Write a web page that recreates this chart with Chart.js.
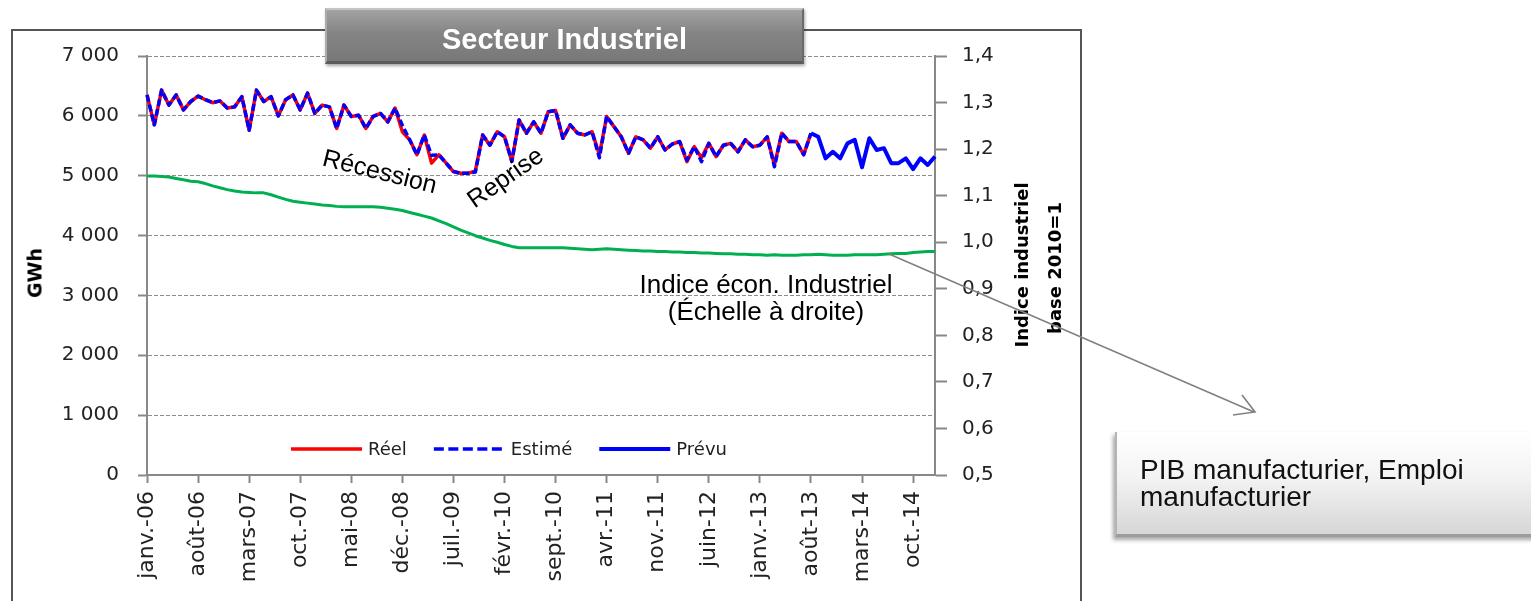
<!DOCTYPE html>
<html lang="fr">
<head>
<meta charset="utf-8">
<title>Secteur Industriel</title>
<script src="https://cdn.jsdelivr.net/npm/chart.js@4.4.1/dist/chart.umd.min.js"></script>
<style>
  html, body { margin: 0; padding: 0; background: #fff; }
  body { position: relative; width: 1531px; height: 601px; overflow: hidden;
         font-family: "Liberation Sans", Arial, sans-serif; }
  #frame { position: absolute; left: 11px; top: 29px; width: 1067px; height: 620px;
           border: 2px solid #555; }
  #chart { position: absolute; left: 0; top: 0; }
  #title { position: absolute; left: 325px; top: 8px; width: 479px; height: 56px;
           box-sizing: border-box; color: #fff; text-align: center;
           font: bold 29px "Liberation Sans", Arial, sans-serif; line-height: 58px;
           background: linear-gradient(#a2a2a2, #858585 45%, #787878);
           border-top: 2px solid #c4c4c4; border-left: 2px solid #acacac;
           border-right: 2px solid #6a6a6a; border-bottom: 3px solid #5c5c5c;
           box-shadow: 1px 2px 3px rgba(0,0,0,0.35); }
  .note { position: absolute; white-space: nowrap; color: #000; font-size: 25px; line-height: 1; }
  .axis-title { position: absolute; white-space: nowrap; color: #000;
                font: bold 18px "DejaVu Sans", sans-serif; line-height: 1; }
  #indice { position: absolute; left: 566px; top: 271px; width: 400px; text-align: center;
            font-size: 26px; line-height: 26.7px; color: #000; }
  #pib { position: absolute; left: 1115px; top: 432px; width: 430px; height: 105px;
         box-sizing: border-box;
         background: linear-gradient(#ffffff, #f3f3f3 45%, #d6d6d6);
         border-left: 2px solid #b4b4b4; border-bottom: 3px solid #9c9c9c;
         box-shadow: -2px 3px 4px rgba(0,0,0,0.35); }
  #pib-text { position: absolute; left: 1140px; top: 456px; font-size: 28px;
              line-height: 27px; color: #111; }
  #arrow { position: absolute; left: 0; top: 0; pointer-events: none; }
</style>
</head>
<body>
<div id="frame"></div>
<canvas id="chart" width="1531" height="601"></canvas>
<div id="title">Secteur Industriel</div>

<div class="note" style="left:380px; top:171px; transform: translate(-50%,-50%) rotate(14deg);">Récession</div>
<div class="note" style="left:505px; top:177px; transform: translate(-50%,-50%) rotate(-35deg);">Reprise</div>
<div id="indice">Indice écon. Industriel<br>(Échelle à droite)</div>

<div class="axis-title" style="left:35px; top:273px; font-size:19px; transform: translate(-50%,-50%) rotate(-90deg);">GWh</div>
<div class="axis-title" style="left:1022px; top:265px; transform: translate(-50%,-50%) rotate(-90deg);">Indice industriel</div>
<div class="axis-title" style="left:1055px; top:268px; transform: translate(-50%,-50%) rotate(-90deg);">base 2010=1</div>

<div id="pib"></div>
<div id="pib-text">PIB manufacturier, Emploi<br>manufacturier</div>

<svg id="arrow" width="1531" height="601">
  <line x1="889" y1="254" x2="1254" y2="412" stroke="#808080" stroke-width="1.6"/>
  <polyline points="1233,415 1255,412 1242,395" fill="none" stroke="#808080" stroke-width="1.6"/>
</svg>

<script>
// Monthly industrial electricity sales (GWh) janv.-06 .. janv.-15,
// plus the industrial economic index (right axis, base 2010 = 1).

// --- Categories ---
const MONTHS = ['janv.', 'févr.', 'mars', 'avr.', 'mai', 'juin',
                'juil.', 'août', 'sept.', 'oct.', 'nov.', 'déc.'];
const YEARS = ['06', '07', '08', '09', '10', '11', '12', '13', '14', '15'];
const N_MONTHS = 109;          // janv.-06 .. janv.-15
const LABEL_EVERY = 7;         // one x label every 7 months

const categories = [];
YEARS.forEach(y => MONTHS.forEach(m => categories.push(m + '-' + y)));
categories.length = N_MONTHS;

// --- Series (GWh) ---
// Réel: janv.-06 .. août-13
const reel = [
  6350, 5850, 6430, 6180, 6350, 6100, 6240, 6330, 6270, 6220,
  6250, 6130, 6150, 6320, 5760, 6430, 6240, 6320, 6000, 6270,
  6350, 6100, 6380, 6040, 6180, 6150, 5790, 6180, 5990, 6010,
  5790, 5990, 6040, 5900, 6130, 5735, 5600, 5350, 5680, 5210,
  5350, 5210, 5070, 5040, 5040, 5080, 5680, 5510, 5735, 5650,
  5240, 5930, 5710, 5900, 5710, 6070, 6090, 5625, 5850, 5710,
  5680, 5735, 5350, 5990, 5820, 5650, 5375, 5650, 5600, 5460,
  5650, 5430, 5530, 5570, 5235, 5485, 5300, 5540, 5320, 5510,
  5540, 5400, 5600, 5485, 5510, 5650, 5180, 5710, 5570, 5570,
  5350, 5710
];

// Estimé: same period
const estime = [
  6350, 5850, 6430, 6180, 6350, 6100, 6240, 6330, 6270, 6220,
  6250, 6130, 6150, 6320, 5760, 6430, 6240, 6320, 6000, 6270,
  6350, 6100, 6380, 6040, 6180, 6150, 5790, 6180, 5990, 6010,
  5790, 5990, 6040, 5900, 6130, 5840, 5600, 5350, 5680, 5340,
  5350, 5210, 5070, 5040, 5040, 5060, 5680, 5510, 5735, 5650,
  5240, 5930, 5710, 5900, 5710, 6070, 6090, 5625, 5850, 5710,
  5680, 5735, 5300, 5990, 5820, 5650, 5375, 5650, 5600, 5460,
  5650, 5430, 5530, 5570, 5260, 5485, 5235, 5540, 5320, 5510,
  5540, 5400, 5600, 5485, 5510, 5650, 5150, 5710, 5570, 5570,
  5350, 5710
];

// Prévu: août-13 .. janv.-15
const PREVU_START = 91;
const prevu = [
  5710, 5650, 5290, 5400, 5290, 5540, 5600, 5140, 5625, 5430,
  5460, 5210, 5210, 5290, 5110, 5290, 5180, 5320
];

// Indice économique industriel (right axis)
const indice = [
  1.142, 1.142, 1.141, 1.140, 1.137, 1.134, 1.131, 1.130, 1.126, 1.121,
  1.117, 1.113, 1.110, 1.108, 1.107, 1.106, 1.106, 1.102, 1.097, 1.092,
  1.088, 1.086, 1.084, 1.082, 1.080, 1.079, 1.077, 1.076, 1.076, 1.076,
  1.076, 1.076, 1.075, 1.073, 1.071, 1.068, 1.064, 1.060, 1.056, 1.052,
  1.046, 1.040, 1.033, 1.026, 1.020, 1.014, 1.009, 1.004, 1.000, 0.995,
  0.991, 0.988, 0.988, 0.988, 0.988, 0.988, 0.988, 0.988, 0.987, 0.986,
  0.985, 0.984, 0.985, 0.986, 0.985, 0.984, 0.983, 0.982, 0.981, 0.981,
  0.980, 0.980, 0.979, 0.979, 0.978, 0.978, 0.977, 0.977, 0.976, 0.975,
  0.975, 0.974, 0.974, 0.973, 0.973, 0.972, 0.973, 0.972, 0.972, 0.972,
  0.973, 0.973, 0.974, 0.973, 0.972, 0.972, 0.972, 0.973, 0.973, 0.973,
  0.973, 0.974, 0.975, 0.976, 0.976, 0.978, 0.979, 0.980, 0.980
];

// --- Axis ranges ---
const GWH_MIN = 0, GWH_MAX = 7000, GWH_STEP = 1000;
const IDX_MIN = 0.5, IDX_MAX = 1.4, IDX_STEP = 0.1;

// Pad a partial series with nulls so it lines up with the categories
function placeAt(values, start) {
  const out = new Array(N_MONTHS).fill(null);
  values.forEach((v, i) => { out[start + i] = v; });
  return out;
}

// "7 000" style thousands separator
function formatGwh(v) {
  return String(v).replace(/\B(?=(\d{3})+(?!\d))/g, ' ');
}

// Legend drawn inside the plot area, below the curves
const inlineLegend = {
  id: 'inlineLegend',
  afterDatasetsDraw(chart, args, opts) {
    const ctx = chart.ctx;
    let x = opts.x;
    const y = opts.y;
    ctx.save();
    ctx.font = opts.font;
    ctx.textBaseline = 'middle';
    ctx.lineCap = 'butt';
    opts.items.forEach(item => {
      const ds = chart.data.datasets[item.index];
      ctx.beginPath();
      ctx.strokeStyle = ds.borderColor;
      ctx.lineWidth = item.lineWidth;
      ctx.setLineDash(item.dash || []);
      ctx.moveTo(x, y);
      ctx.lineTo(x + opts.lineLength, y);
      ctx.stroke();
      ctx.setLineDash([]);
      x += opts.lineLength + opts.textGap;
      ctx.fillStyle = opts.color;
      ctx.fillText(ds.label, x, y + 1);
      x += ctx.measureText(ds.label).width + opts.itemGap;
    });
    ctx.restore();
  }
};

Chart.defaults.font.family = '"DejaVu Sans", sans-serif';
Chart.defaults.color = '#222';

const AXIS_GREY = '#888';

new Chart(document.getElementById('chart'), {
  type: 'line',
  data: {
    labels: categories,
    datasets: [
      { label: 'Réel', data: placeAt(reel, 0), borderColor: '#ff0000',
        borderWidth: 3.5, order: 3 },
      { label: 'Estimé', data: placeAt(estime, 0), borderColor: '#0000ff',
        borderWidth: 3.5, borderDash: [7, 3], order: 2 },
      { label: 'Prévu', data: placeAt(prevu, PREVU_START), borderColor: '#0000ff',
        borderWidth: 4, order: 1 },
      { label: 'Indice écon. Industriel', data: indice, borderColor: '#00b050',
        borderWidth: 3, yAxisID: 'y1', order: 4 }
    ]
  },
  options: {
    responsive: false,
    animation: false,
    events: [],
    elements: {
      point: { radius: 0 },
      line: { tension: 0, borderCapStyle: 'butt', borderJoinStyle: 'round' }
    },
    layout: { padding: { top: 56, left: 0, right: 0, bottom: 0 } },
    plugins: {
      legend: { display: false },
      tooltip: { enabled: false },
      inlineLegend: {
        x: 291, y: 449, lineLength: 71, textGap: 6, itemGap: 27,
        font: '18px "DejaVu Sans", sans-serif', color: '#222',
        items: [
          { index: 0, lineWidth: 3.5 },
          { index: 1, lineWidth: 3.5, dash: [10, 4.5] },
          { index: 2, lineWidth: 4 }
        ]
      }
    },
    scales: {
      x: {
        type: 'category',
        offset: false,
        grid: {
          drawOnChartArea: false,
          drawTicks: true,
          tickLength: 8,
          tickWidth: 2,
          tickColor: (c) => (c.index % LABEL_EVERY === 0 ? AXIS_GREY : 'rgba(0,0,0,0)')
        },
        border: { color: AXIS_GREY, width: 2 },
        ticks: {
          autoSkip: false,
          minRotation: 90,
          maxRotation: 90,
          padding: 8,
          font: { size: 22 },
          callback: function (value, index) {
            return index % LABEL_EVERY === 0 ? this.getLabelForValue(value) : '';
          }
        },
        afterFit: (s) => { s.height = 126; }
      },
      y: {
        position: 'left',
        min: GWH_MIN,
        max: GWH_MAX,
        grid: {
          color: '#8c8c8c',
          lineWidth: 1,
          tickLength: 9,
          tickWidth: 2,
          tickColor: AXIS_GREY
        },
        border: { color: AXIS_GREY, width: 2, dash: [4, 2] },
        ticks: {
          stepSize: GWH_STEP,
          padding: 19,
          font: { size: 20 },
          callback: (v) => formatGwh(v)
        },
        afterFit: (s) => { s.width = 147; }
      },
      y1: {
        position: 'right',
        min: IDX_MIN,
        max: IDX_MAX,
        grid: {
          drawOnChartArea: false,
          tickLength: 12,
          tickWidth: 2,
          tickColor: AXIS_GREY
        },
        border: { color: AXIS_GREY, width: 2 },
        ticks: {
          stepSize: IDX_STEP,
          padding: 15,
          font: { size: 20 },
          callback: (v) => v.toFixed(1).replace('.', ',')
        },
        afterFit: (s) => { s.width = 1531 - 935; }
      }
    }
  },
  plugins: [inlineLegend]
});
</script>
</body>
</html>
